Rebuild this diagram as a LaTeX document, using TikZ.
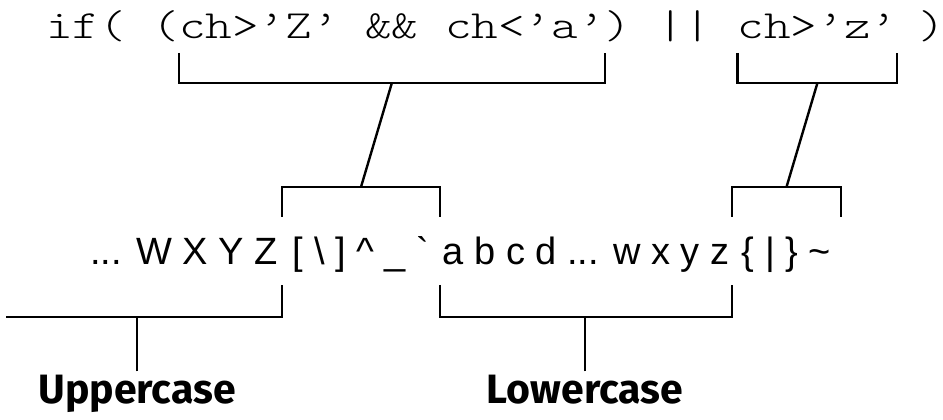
\documentclass[tikz,border=0pt]{standalone}
\usepackage{fontspec}
\newfontfamily\charfont{Liberation Sans}
\newfontfamily\labelfont{Fira Sans}
\newfontfamily\codefont{lmmonolt10-regular.otf}

\begin{document}
\begin{tikzpicture}[x=1pt,y=1pt]
% Canvas
\useasboundingbox (0,0) rectangle (943,420);

\tikzstyle{codetxt} = [anchor=base west, inner sep=0pt, outer sep=0pt, xscale=1.267, font=\codefont\fontsize{40}{48}\selectfont]
\tikzstyle{chars} = [anchor=base, inner sep=0pt, outer sep=0pt, font=\charfont\fontsize{38}{46}\selectfont]
\tikzstyle{caselbl} = [anchor=base, inner sep=4pt, font=\labelfont\bfseries\fontsize{41}{49}\selectfont]
\tikzstyle{brk} = [line width=2.4pt]

% the test, one column = 26.6
\node at (46,381) [codetxt] (ifpart) {if( (};
\node at (46+5*26.6,381) [codetxt] (lowtest) {ch>’Z’ \&\& ch<’a’};
\node at (46+21*26.6,381) [codetxt] (orpart) {) ||};
\node at (46+26*26.6,381) [codetxt] (hightest) {ch>’z’};
\node at (918,381) [codetxt] (closing) {)};

% character row
\node at (282,155) [chars, anchor=base east, inner xsep=4.5pt] (upper) {... W X Y Z};
\node at (361,155) [chars, minimum width=158pt] (puncta) {[ \textbackslash{} ] \textasciicircum{} \_ `};
\node at (586,155) [chars, minimum width=292pt] (lower) {a b c d ... w x y z};
\node at (786.5,155) [chars, minimum width=109pt] (punctb) {\{ | \} \textasciitilde};

% brackets under the two tests
\draw[brk] ([yshift=-14pt]lowtest.base west) -- ++(0,-30) -| coordinate[pos=.25] (lowmid) ([yshift=-14pt]lowtest.base east);
\draw[brk] ([yshift=-14pt]hightest.base west) -- ++(0,-30) -| coordinate[pos=.25] (highmid) ([yshift=-14pt]hightest.base east);

% brackets over the gaps
\draw[brk] ([yshift=48pt]puncta.base west) -- ++(0,30) -| coordinate[pos=.25] (punctamid) ([yshift=48pt]puncta.base east);
\draw[brk] ([yshift=48pt]punctb.base west) -- ++(0,30) -| coordinate[pos=.25] (punctbmid) ([yshift=48pt]punctb.base east);
\draw[brk] (lowmid) -- (punctamid);
\draw[brk] (highmid) -- (punctbmid);

% letter ranges
\coordinate (upperend) at (6,103);
\draw[brk] (upperend) -| ([yshift=-20pt]upper.base east);
\draw[brk] ([yshift=-20pt]lower.base west) -- ++(0,-32) -| ([yshift=-20pt]lower.base east);

\node at (137,16) [caselbl] (uplbl) {Uppercase};
\node at (585,16) [caselbl] (lowlbl) {Lowercase};
\draw[brk] (uplbl) -- (uplbl |- upperend);
\draw[brk] (lowlbl) -- (lowlbl |- upperend);
\end{tikzpicture}
\end{document}
